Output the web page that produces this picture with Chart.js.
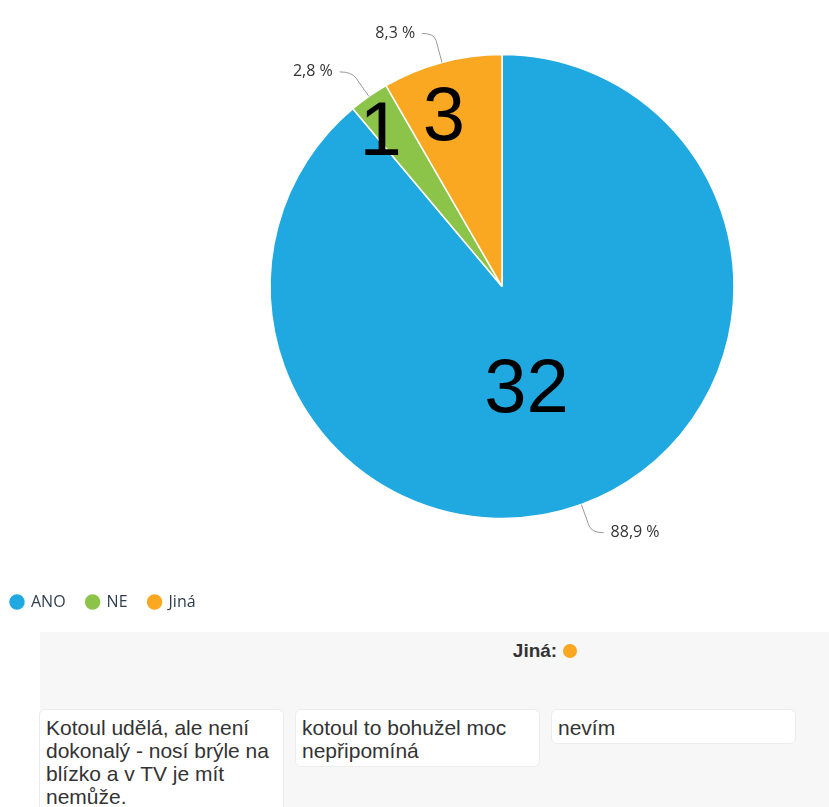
<!DOCTYPE html>
<html>
<head>
<meta charset="utf-8">
<script src="https://cdn.jsdelivr.net/npm/chart.js@4.4.0/dist/chart.umd.min.js"></script>
<style>
  body { margin: 0; overflow: hidden; background: #fff; font-family: Arial, "Liberation Sans", sans-serif; }
  #wrap { position: relative; width: 1004px; height: 620px; }
  #panel { position: absolute; left: 40px; top: 632px; width: 1010px; height: 300px; background: #f7f7f7; }
  #otherTitle { position: absolute; top: 8px; left: 0; width: 1010px; text-align: center; font-weight: bold; font-size: 19px; color: #333; }
  #otherTitle .dot { display: inline-block; width: 14px; height: 14px; border-radius: 7px; background: #faa722; margin-left: 6px; vertical-align: -1px; }
  .answer { position: absolute; top: 77px; width: 231px; background: #fff; border: 1px solid #ececec; border-radius: 6px;
            padding: 6px 6px 4px 6px; font-size: 21px; line-height: 23px; color: #333; }
</style>
</head>
<body>
<div id="wrap"><canvas id="myPieChart" width="1004" height="620"></canvas></div>
<div id="panel">
  <div id="otherTitle">Jiná:<span class="dot"></span></div>
</div>
<script>
// values
var categories = ["ANO", "NE", "Jiná"];
var counts = [32, 1, 3];
var percentLabels = ["88,9 %", "2,8 %", "8,3 %"];
var colors = ["#20a8e0", "#8cc44a", "#faa722"];
var otherAnswers = [
  "Kotoul udělá, ale není dokonalý - nosí brýle na blízko a v TV je mít nemůže.",
  "kotoul to bohužel moc nepřipomíná",
  "nevím"
];

// answers boxes under the chart
var panel = document.getElementById("panel");
for (var i = 0; i < otherAnswers.length; i++) {
  var box = document.createElement("div");
  box.className = "answer";
  box.style.left = (i * 256 - 1) + "px";
  box.textContent = otherAnswers[i];
  panel.appendChild(box);
}

var sliceLabels = {
  id: "sliceLabels",
  afterDatasetsDraw: function(chart) {
    var ctx = chart.ctx;
    var meta = chart.getDatasetMeta(0);
    var total = counts.reduce(function(a, b) { return a + b; }, 0);
    meta.data.forEach(function(arc, i) {
      var p = arc.getProps(["x", "y", "startAngle", "endAngle", "outerRadius"], true);
      var mid = (p.startAngle + p.endAngle) / 2;
      var cos = Math.cos(mid), sin = Math.sin(mid);
      var R = p.outerRadius;

      // count inside slice, small slices pushed to the rim
      var frac = counts[i] / total;
      var f = frac > 0.5 ? 0.46 : 0.85 - frac;
      ctx.save();
      ctx.fillStyle = "#000";
      ctx.font = "76px Arial, 'Liberation Sans'";
      ctx.textAlign = "center";
      ctx.textBaseline = "middle";
      ctx.fillText(counts[i], p.x + cos * R * f - 12, p.y + sin * R * f + 4);

      // percent outside with connector
      var x1 = p.x + cos * R, y1 = p.y + sin * R;
      var x2 = p.x + cos * (R + 30), y2 = p.y + sin * (R + 30);
      var dir = cos >= 0 ? 1 : -1;
      ctx.strokeStyle = "#999";
      ctx.lineWidth = 1;
      ctx.beginPath();
      ctx.moveTo(x1, y1);
      ctx.lineTo(x1 + (x2 - x1) * 0.75, y1 + (y2 - y1) * 0.75);
      ctx.quadraticCurveTo(x2, y2, x2 + dir * 12, y2);
      ctx.stroke();
      ctx.fillStyle = "#333";
      ctx.font = "16px 'Open Sans'";
      ctx.textAlign = dir > 0 ? "left" : "right";
      ctx.fillText(percentLabels[i], x2 + dir * 19, y2);
      ctx.restore();
    });
  }
};

var canvasPie = document.getElementById("myPieChart");
var myPieChart = new Chart(canvasPie, {
  type: 'pie',
  data: {
    labels: categories,
    datasets: [
      {
        data: counts,
        backgroundColor: colors,
        borderColor: "#fff",
        borderWidth: 1.5,
        radius: 232
      }
    ]
  },
  options: {
    responsive: false,
    animation: false,
    layout: { padding: { top: -6, left: -10 } },
    plugins: {
      tooltip: { enabled: false },
      legend: {
        position: 'bottom',
        align: 'start',
        labels: {
          usePointStyle: true,
          pointStyle: 'circle',
          boxWidth: 12,
          boxHeight: 12,
          padding: 21,
          color: "#2e3e4e",
          font: { family: "'Open Sans'", size: 16 }
        }
      }
    }
  },
  plugins: [sliceLabels]
});
</script>
</body>
</html>
